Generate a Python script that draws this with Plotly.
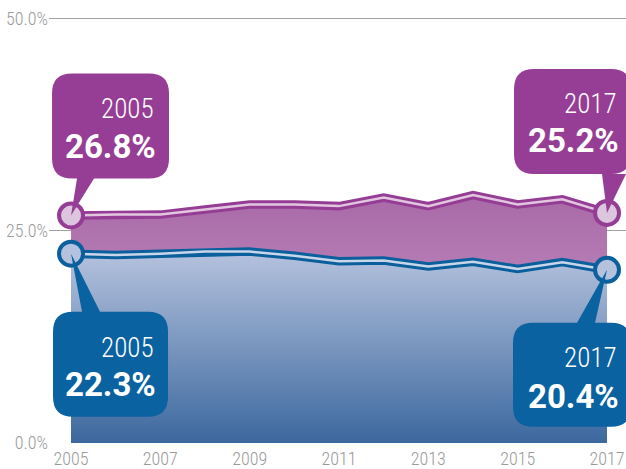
import plotly.graph_objects as go

# ---------------- data ----------------
years = list(range(2005, 2018))
purple_vals = [26.8, 26.9, 26.9, 27.5, 28.1, 28.1, 27.9, 28.9, 27.9, 29.2, 28.1, 28.7, 27.1]
blue_vals = [22.3, 22.15, 22.3, 22.55, 22.55, 22.05, 21.4, 21.5, 20.8, 21.35, 20.5, 21.3, 20.4]
callout_years = ["2005", "2017"]
purple_callout_text = ["26.8%", "25.2%"]
blue_callout_text = ["22.3%", "20.4%"]
y_ticks = [0, 25, 50]
x_ticks = [2005, 2007, 2009, 2011, 2013, 2015, 2017]

# ---------------- styles ----------------
P_DARK = "#953d94"
P_LIGHT = "#e2c6e0"
P_MARK = "#dcc6df"
P_BOX = "#963e95"
B_DARK = "#0b5f9c"
B_LIGHT = "#c9d6ea"
B_MARK = "#b4c2de"
B_BOX = "#0a62a1"
GRID = "#a0a0a0"
TICK_FONT = dict(family="Roboto Condensed, Liberation Sans Narrow, Roboto", size=18, color="#9a9a9a", weight=300)
XTICK_FONT = dict(family="Roboto Condensed, Liberation Sans Narrow, Roboto", size=18, color="#9a9a9a", weight=300)
YEAR_FONT = dict(family="Roboto Condensed, Liberation Sans Narrow, Roboto", size=27, color="white", weight=300)
VAL_FONT = dict(family="Roboto", size=33, color="white", weight=700)

fig = go.Figure()

# filled areas
fig.add_trace(go.Scatter(
    x=years, y=purple_vals, mode="lines", line=dict(width=0), fill="tozeroy",
    fillgradient=dict(type="vertical", start=18, stop=29,
                      colorscale=[[0, "#b981b7"], [1, "#a96aa8"]]),
    hoverinfo="skip", showlegend=False))
fig.add_trace(go.Scatter(
    x=years, y=blue_vals, mode="lines", line=dict(width=0), fill="tozeroy",
    fillgradient=dict(type="vertical", start=0, stop=22,
                      colorscale=[[0, "#3c689e"], [1, "#b2c0dc"]]),
    hoverinfo="skip", showlegend=False))

# double lines
for vals, dark, light in [(purple_vals, P_DARK, P_LIGHT), (blue_vals, B_DARK, B_LIGHT)]:
    fig.add_trace(go.Scatter(x=years, y=vals, mode="lines",
                             line=dict(color=dark, width=8.5), hoverinfo="skip", showlegend=False))
    fig.add_trace(go.Scatter(x=years, y=vals, mode="lines",
                             line=dict(color=light, width=2.5), hoverinfo="skip", showlegend=False))

# endpoint markers
ends = [0, len(years) - 1]
for vals, dark, fillc in [(purple_vals, P_DARK, P_MARK), (blue_vals, B_DARK, B_MARK)]:
    fig.add_trace(go.Scatter(
        x=[years[i] for i in ends], y=[vals[i] for i in ends], mode="markers",
        marker=dict(size=24, color=fillc, line=dict(color=dark, width=4)),
        hoverinfo="skip", showlegend=False))


def callout_path(L, R, T, B, r, xa, xb, tail_bottom):
    # pixel offsets relative to anchor, y positive up; T > B
    if tail_bottom:
        return (f"M {L+r},{T} L {R-r},{T} Q {R},{T} {R},{T-r} L {R},{B+r} "
                f"Q {R},{B} {R-r},{B} L {xb},{B} L 0,0 L {xa},{B} L {L+r},{B} "
                f"Q {L},{B} {L},{B+r} L {L},{T-r} Q {L},{T} {L+r},{T} Z")
    return (f"M {L+r},{T} L {xa},{T} L 0,0 L {xb},{T} L {R-r},{T} Q {R},{T} {R},{T-r} "
            f"L {R},{B+r} Q {R},{B} {R-r},{B} L {L+r},{B} Q {L},{B} {L},{B+r} "
            f"L {L},{T-r} Q {L},{T} {L+r},{T} Z")


# (series values, callout texts, color, geometry per endpoint)
callouts = [
    (purple_vals, purple_callout_text, P_BOX,
     [dict(L=-19, R=98, T=142, B=37, xa=6, xb=23, tb=True, tx=85, yy=106, yv=69),
      dict(L=-93, R=24, T=144, B=39, xa=-5, xb=19, tb=True, tx=12, yy=109, yv=72)]),
    (blue_vals, blue_callout_text, B_BOX,
     [dict(L=-18, R=97, T=-58, B=-163, xa=11, xb=29, tb=False, tx=85, yy=-94, yv=-131),
      dict(L=-94, R=24, T=-53, B=-157, xa=-30, xb=-12, tb=False, tx=12, yy=-88, yv=-127)]),
]

for vals, texts, color, geoms in callouts:
    for k, idx in enumerate(ends):
        g = geoms[k]
        fig.add_shape(type="path", xref="x", yref="y",
                      xsizemode="pixel", ysizemode="pixel",
                      xanchor=years[idx], yanchor=vals[idx],
                      path=callout_path(g["L"], g["R"], g["T"], g["B"], 20, g["xa"], g["xb"], g["tb"]),
                      fillcolor=color, line=dict(width=0), layer="above")
        fig.add_annotation(x=years[idx], y=vals[idx], xref="x", yref="y",
                           text=callout_years[k], showarrow=False, font=YEAR_FONT,
                           xanchor="right", yanchor="middle", xshift=g["tx"], yshift=g["yy"])
        fig.add_annotation(x=years[idx], y=vals[idx], xref="x", yref="y",
                           text=texts[k], showarrow=False, font=VAL_FONT,
                           xanchor="right", yanchor="middle", xshift=g["tx"] + 2, yshift=g["yv"])

fig.update_layout(
    width=626, height=469,
    margin=dict(l=49, r=0, t=10, b=26, autoexpand=False),
    paper_bgcolor="white", plot_bgcolor="white",
    xaxis=dict(range=[2004.507, 2017.425], tickvals=x_ticks, ticktext=[str(v) for v in x_ticks],
               showgrid=False, zeroline=False, showline=False, ticks="", automargin=False,
               tickfont=XTICK_FONT, ticklabelstandoff=3, fixedrange=True),
    yaxis=dict(range=[0, 51.0], tickvals=y_ticks, ticktext=[f"{v:.1f}%" for v in y_ticks],
               showgrid=True, gridcolor=GRID, gridwidth=1, zeroline=False, showline=False,
               ticks="", automargin=False, tickfont=TICK_FONT, fixedrange=True),
)

fig.write_html("out.html")
